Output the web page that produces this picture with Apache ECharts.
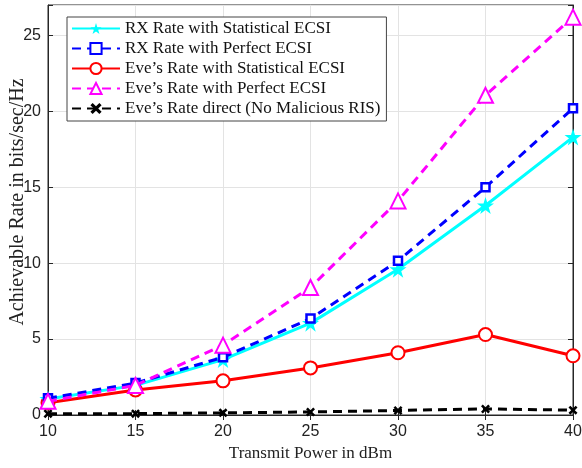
<!DOCTYPE html>
<html><head><meta charset="utf-8">
<script src="https://cdn.jsdelivr.net/npm/echarts@6/dist/echarts.min.js"></script>
<style>html,body{margin:0;padding:0;background:#fff}#c{width:582px;height:468px}</style>
</head><body><div id="c"></div>
<script>
const xValues = [10, 15, 20, 25, 30, 35, 40];
const rxStat = [1.05, 1.95, 3.65, 6.05, 9.6, 13.8, 18.3];
const rxPerf = [1.1, 2.1, 3.8, 6.35, 10.15, 15.0, 20.2];
const eveStat = [0.8, 1.65, 2.25, 3.1, 4.1, 5.3, 3.9];
const evePerf = [0.9, 1.95, 4.6, 8.4, 14.1, 21.05, 26.2];
const eveDirect = [0.08, 0.09, 0.14, 0.2, 0.3, 0.4, 0.32];
const names = ["RX Rate with Statistical ECSI", "RX Rate with Perfect ECSI", "Eve\u2019s Rate with Statistical ECSI", "Eve\u2019s Rate with Perfect ECSI", "Eve\u2019s Rate direct (No Malicious RIS)"];

const star = 'path://M50,0 L61.2,34.5 L97.6,34.5 L68.2,55.9 L79.4,90.5 L50,69.1 L20.6,90.5 L31.8,55.9 L2.4,34.5 L38.8,34.5 Z';
const cross = 'path://M0,20 L20,0 L50,30 L80,0 L100,20 L70,50 L100,80 L80,100 L50,70 L20,100 L0,80 L30,50 Z';
function pts(arr){ return xValues.map((x,i)=>[x, arr[i]]); }
const serif = 'Liberation Serif';
const chart = echarts.init(document.getElementById('c'));
chart.setOption({
  animation:false,
  grid:{left:48,right:9,top:5,bottom:53,show:true,borderColor:'#262626',borderWidth:1,
        outerBoundsMode:'none',containLabel:false},
  legend:{
    orient:'vertical', left:67, top:17, itemWidth:48, itemHeight:14, itemGap:3,
    backgroundColor:'#fff', borderColor:'#444', borderWidth:1, padding:[3,6,4,4],
    textStyle:{fontFamily:serif,fontSize:17,color:'#111',lineHeight:17},
    data:names
  },
  xAxis:[{
    type:'value', min:10, max:40, interval:5,
    name:'Transmit Power in dBm', nameLocation:'middle', nameGap:30, nameMoveOverlap:false,
    nameTextStyle:{fontFamily:serif,fontSize:17,color:'#222'},
    axisLine:{lineStyle:{color:'#262626'}},
    axisTick:{inside:true,length:5,lineStyle:{color:'#262626'}},
    axisLabel:{fontFamily:'Liberation Sans',fontSize:16,color:'#222',margin:9},
    splitLine:{show:true,lineStyle:{color:'#e3e3e3'}}
  },{
    type:'value', min:10, max:40, interval:5, position:'top',
    axisLine:{show:true,lineStyle:{color:'#262626'}},
    axisTick:{inside:true,length:5,lineStyle:{color:'#262626'}},
    axisLabel:{show:false}, splitLine:{show:false}
  }],
  yAxis:[{
    type:'value', min:0, max:27, interval:5,
    name:'Achievable Rate in bits/sec/Hz', nameLocation:'middle', nameGap:20, nameMoveOverlap:false,
    nameTextStyle:{fontFamily:serif,fontSize:20,color:'#222',padding:[0,0,0,16]},
    axisLine:{show:true,lineStyle:{color:'#262626'}},
    axisTick:{inside:true,length:5,lineStyle:{color:'#262626'}},
    axisLabel:{fontFamily:'Liberation Sans',fontSize:16,color:'#222',margin:7,
      formatter:v=> (v%5===0 ? String(v) : '')},
    splitLine:{show:true,lineStyle:{color:'#e3e3e3'}}
  },{
    type:'value', min:0, max:27, interval:5, position:'right',
    axisLine:{show:true,lineStyle:{color:'#262626'}},
    axisTick:{inside:true,length:5,lineStyle:{color:'#262626'}},
    axisLabel:{show:false}, splitLine:{show:false}
  }],
  series:[
    {name:names[0],type:'line',data:pts(rxStat),symbol:star,symbolSize:17,
     lineStyle:{color:'#00ffff',width:3},itemStyle:{color:'#00ffff',borderWidth:0},z:3},
    {name:names[1],type:'line',data:pts(rxPerf),symbol:'rect',symbolSize:8,
     lineStyle:{color:'#0000ff',width:3,type:[9,6]},itemStyle:{color:'#ffffff',borderColor:'#0000ff',borderWidth:2.5},z:4},
    {name:names[2],type:'line',data:pts(eveStat),symbol:'emptyCircle',symbolSize:13,
     lineStyle:{color:'#ff0000',width:3},itemStyle:{color:'#ff0000',borderColor:'#ff0000',borderWidth:2.5},z:2},
    {name:names[3],type:'line',data:pts(evePerf),symbol:'emptyTriangle',symbolSize:15,
     lineStyle:{color:'#ff00ff',width:3,type:[9,6]},itemStyle:{color:'#ff00ff',borderColor:'#ff00ff',borderWidth:2.5},z:5},
    {name:names[4],type:'line',data:pts(eveDirect),symbol:cross,symbolSize:9,
     lineStyle:{color:'#000000',width:3,type:[9,6]},itemStyle:{color:'#000000',borderWidth:0},z:2}
  ]
});
</script></body></html>
